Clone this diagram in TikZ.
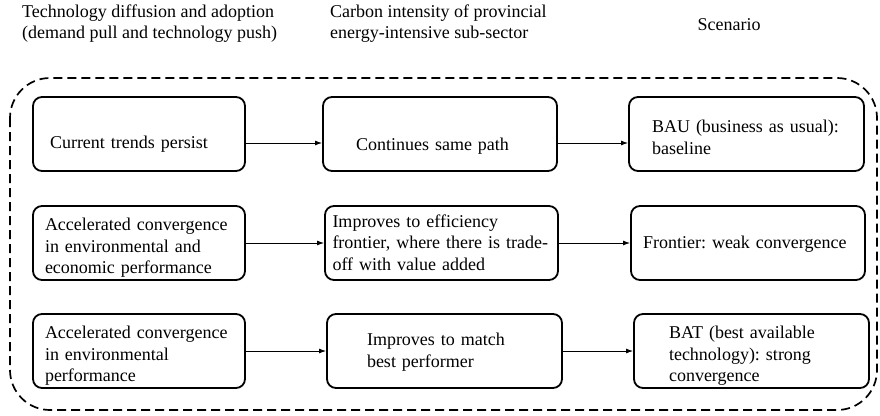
\documentclass[tikz,border=0pt]{standalone}
\usepackage{fontspec}
\setmainfont{Liberation Serif}
\usetikzlibrary{arrows.meta}
\tikzset{
  box/.style={draw, line width=1.8pt, rounded corners=9pt, align=left, inner ysep=0pt},
  frame/.style={line width=1.7pt, dash pattern=on 9pt off 5pt, rounded corners=40pt},
  head/.style={align=left, inner sep=0pt},
}

\begin{document}
\begin{tikzpicture}[x=1pt, y=-1pt, >={Latex[length=7pt,width=5pt]}, font=\fontsize{18}{21.5}\selectfont\frenchspacing]
  \useasboundingbox (0, 0) rectangle (880, 415);

  % Column headings
  \node[head, anchor=north west] (head1) at (22, 4.5) {Technology diffusion and adoption\\(demand pull and technology push)};
  \node[head, anchor=north west] (head2) at (330, 4.5) {Carbon intensity of provincial\\energy-intensive sub-sector};
  \node[head, anchor=base] (head3) at (729, 30) {Scenario};

  % Dashed frame round the rows
  \coordinate (fnw) at (10, 78);
  \coordinate (fse) at (877, 410);
  \draw[frame] (fnw) rectangle (fse);

  % Row 1
  \node[box, text width=178pt, inner xsep=17pt, text height=51.5pt, text depth=22.5pt] (b11) at (139, 134) {Current trends persist};
  \node[box, text width=168pt, inner xsep=33pt, text height=53.5pt, text depth=20.5pt] (b12) at (440, 134) {Continues same path};
  \node[box, text width=189pt, inner xsep=23pt, text height=35.5pt, text depth=38.5pt] (b13) at (746.5, 134) {BAU (business as usual):\\baseline};

  % Row 2
  \node[box, text width=188pt, inner xsep=12pt, text height=24.5pt, text depth=49.5pt] (b21) at (139, 243) {Accelerated convergence\\in environmental and\\economic performance};
  \node[box, text width=218pt, inner xsep=7.5pt, text height=21pt, text depth=53pt] (b22) at (441.5, 243) {Improves to efficiency\\frontier, where there is trade-\\off with value added};
  \node[box, text width=210pt, inner xsep=12pt, text height=42pt, text depth=32pt] (b23) at (748, 243) {Frontier: weak convergence};

  % Row 3
  \node[box, text width=188pt, inner xsep=12pt, text height=24.5pt, text depth=49.5pt] (b31) at (139, 351) {Accelerated convergence\\in environmental\\performance};
  \node[box, text width=155pt, inner xsep=40pt, text height=31.5pt, text depth=42.5pt] (b32) at (444.5, 351) {Improves to match\\best performer};
  \node[box, text width=165pt, inner xsep=35pt, text height=24.5pt, text depth=49.5pt] (b33) at (751.5, 351) {BAT (best available\\technology): strong\\convergence};

  % Draw the arrows
  \draw[->, line width=1pt] ([yshift=-9pt]b11.east) -- ([yshift=-9pt]b12.west);
  \draw[->, line width=1pt] ([yshift=-9pt]b12.east) -- ([yshift=-9pt]b13.west);
  \draw[->, line width=1pt] (b21) -- (b22);
  \draw[->, line width=1pt] (b22) -- (b23);
  \draw[->, line width=1pt] (b31) -- (b32);
  \draw[->, line width=1pt] (b32) -- (b33);
\end{tikzpicture}
\end{document}
